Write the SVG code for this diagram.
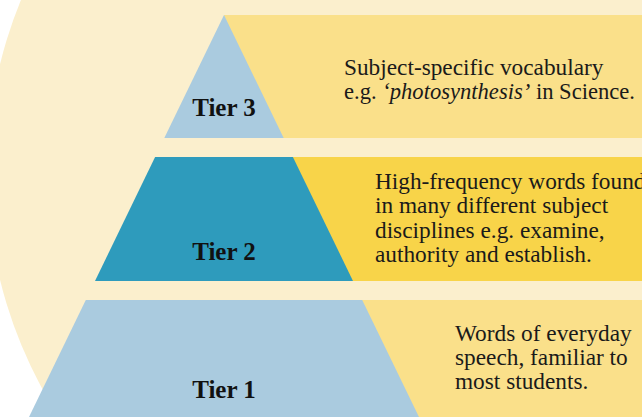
<svg xmlns="http://www.w3.org/2000/svg" width="642" height="417" viewBox="0 0 642 417">
  <style>
    .bg { fill: #FBEFCD; }
    .pale { fill: #FAE08A; }
    .strong { fill: #F8D449; }
    .sky { fill: #AACBDF; }
    .teal { fill: #2E9BBC; }
    .label { font-family: "Liberation Serif", "Times New Roman", serif; font-weight: bold; font-size: 25px; fill: #111111; text-anchor: middle; }
    .body { font-family: "Liberation Serif", "Times New Roman", serif; font-size: 23.3px; fill: #1a1a1a; }
    .it { font-style: italic; }
  </style>

  <!-- page and large cream disc -->
  <rect x="0" y="0" width="642" height="417" fill="#FFFFFF"/>
  <circle class="bg" cx="440" cy="172" r="453"/>

  <!-- Tier 3: apex of the pyramid -->
  <g id="tier3">
    <rect class="pale" x="224" y="15" width="418" height="123"/>
    <polygon class="sky" points="224,15 283.7,138 164.3,138"/>
    <text class="label" x="224" y="116">Tier 3</text>
    <text class="body" x="344" y="75">Subject-specific vocabulary</text>
    <text class="body" x="344" y="99.3" textLength="291" lengthAdjust="spacingAndGlyphs">e.g. <tspan class="it">‘photosynthesis’</tspan> in Science.</text>
  </g>

  <!-- Tier 2: middle band -->
  <g id="tier2">
    <rect class="strong" x="224" y="157" width="418" height="124"/>
    <polygon class="teal" points="155.1,157 292.9,157 353,281 95,281"/>
    <text class="label" x="224" y="260">Tier 2</text>
    <text class="body" x="375" y="189">High-frequency words found</text>
    <text class="body" x="375" y="213.3">in many different subject</text>
    <text class="body" x="375" y="237.6">disciplines e.g. examine,</text>
    <text class="body" x="375" y="261.8">authority and establish.</text>
  </g>

  <!-- Tier 1: base band -->
  <g id="tier1">
    <rect class="pale" x="224" y="300" width="418" height="117"/>
    <polygon class="sky" points="85.8,300 362.2,300 419,417 29,417"/>
    <text class="label" x="224" y="398">Tier 1</text>
    <text class="body" x="455" y="341">Words of everyday</text>
    <text class="body" x="455" y="365.2">speech, familiar to</text>
    <text class="body" x="455" y="389.4">most students.</text>
  </g>
</svg>
